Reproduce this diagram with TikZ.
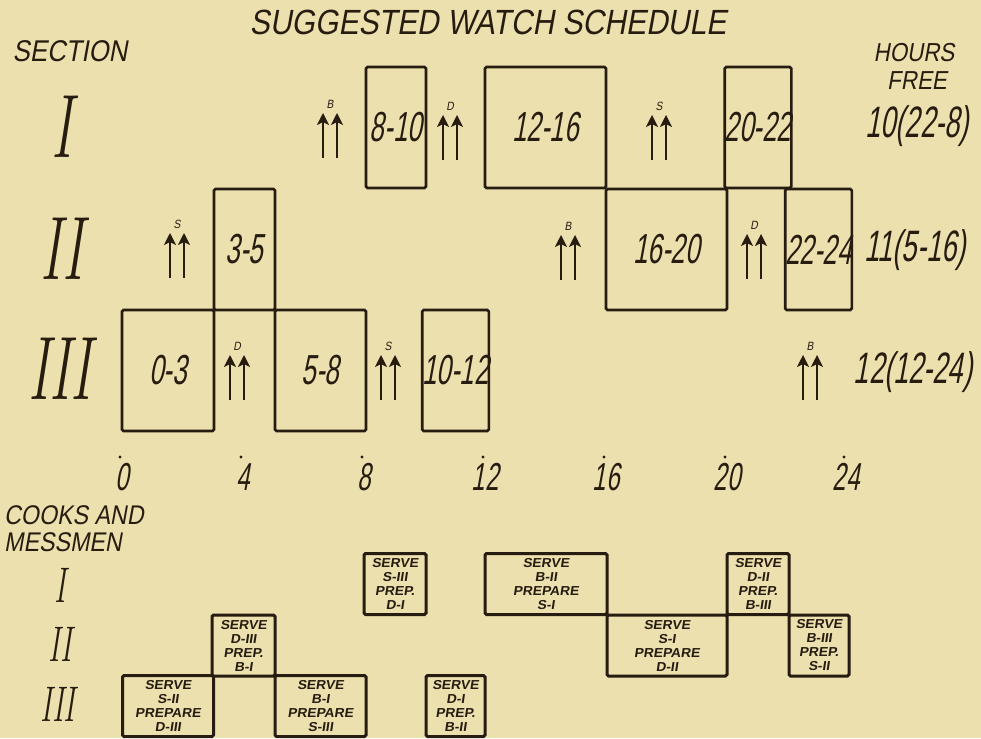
\documentclass[tikz,border=0pt]{standalone}
\usepackage{fontspec}
\usepackage{graphicx}
\usetikzlibrary{arrows.meta}
\newfontfamily\hand[FakeSlant=0.18,FakeStretch=0.62]{Liberation Sans}
\newfontfamily\handw[FakeSlant=0.18,FakeStretch=0.86]{Liberation Sans}
\newfontfamily\handb[FakeSlant=0.15,FakeStretch=1.06]{Liberation Sans}
\definecolor{paper}{RGB}{236,224,174}
\definecolor{ink}{RGB}{38,28,16}
\newcommand\RomX[1]{\scalebox{0.62}[1]{#1}}
\newcommand\dup[4]{%
  \draw[dblarr] ({#2-7},#3) -- ({#2-7},{#3-45});
  \draw[dblarr] ({#2+7},#3) -- ({#2+7},{#3-45});
  \node[alab] (#1) at (#2,{#3-54}) {#4};}
\begin{document}
\begin{tikzpicture}[x=1pt,y=-1pt,
  wbox/.style={draw=ink,line width=2.6pt,rounded corners=1.5pt,inner sep=0pt,text=ink,
    minimum height=121pt,font=\hand\fontsize{42}{42}\selectfont},
  cbox/.style={draw=ink,line width=3pt,rounded corners=1.5pt,inner sep=0pt,text=ink,
    minimum height=61pt,align=center,font=\handb\bfseries\fontsize{13}{14}\selectfont},
  rom/.style={text=ink,inner sep=0pt,font=\itshape\fontsize{90}{90}\selectfont},
  romsm/.style={text=ink,inner sep=0pt,font=\itshape\fontsize{50}{50}\selectfont},
  lab/.style={text=ink,inner sep=0pt,font=\handw\fontsize{30}{30}\selectfont},
  free/.style={text=ink,inner sep=0pt,font=\hand\fontsize{44}{44}\selectfont},
  axn/.style={text=ink,inner sep=0pt,font=\hand\fontsize{39}{39}\selectfont},
  alab/.style={text=ink,inner sep=0pt,font=\handw\fontsize{12}{12}\selectfont},
  dblarr/.style={draw=ink,line width=1.8pt,-{Stealth[length=12pt,width=12pt,inset=3pt]}},
  tick/.style={fill=ink,draw=none}]
\useasboundingbox (0,0) rectangle (981,738);
\fill[paper] (0,0) rectangle (981,738);

% headings
\node[text=ink,inner sep=0pt,font=\handw\fontsize{35}{35}\selectfont] (title) at (488,22) {SUGGESTED WATCH SCHEDULE};
\node[lab] (section) at (70,51) {SECTION};
\node[lab,font=\handw\fontsize{26}{26}\selectfont] (hours) at (914,53) {HOURS};
\node[lab,font=\handw\fontsize{26}{26}\selectfont] (freehd) at (917,81) {FREE};

% section numerals
\node[rom] (sI) at (62,127) {\RomX{I}};
\node[rom] (sII) at (62,249) {\RomX{II}};
\node[rom] (sIII) at (60,369) {\RomX{III}};

% watch boxes
\node[wbox,minimum width=60pt] (w810) at (396,127.5) {8-10};
\node[wbox,minimum width=121pt] (w1216) at (545.5,127.5) {12-16};
\node[wbox,minimum width=62pt] (w2022) at (758,127.5) {20-22};
\node[wbox,minimum width=61pt] (w35) at (244.5,249.5) {3-5};
\node[wbox,minimum width=121pt] (w1620) at (666.5,249.5) {16-20};
\node[wbox,minimum width=59pt] (w2224) at (818.5,249.5) {22-24};
\node[wbox,minimum width=92pt] (w03) at (168,370.5) {0-3};
\node[wbox,minimum width=91pt] (w58) at (320.5,370.5) {5-8};
\node[wbox,minimum width=59pt] (w1012) at (455.5,370.5) {10-12};

% meal arrows
\dup{aIB}{330}{158}{B}
\dup{aID}{450}{160}{D}
\dup{aIS}{659}{160}{S}
\dup{aIIS}{177}{278}{S}
\dup{aIIB}{568}{280}{B}
\dup{aIID}{754}{279}{D}
\dup{aIIID}{237}{400}{D}
\dup{aIIIS}{388}{400}{S}
\dup{aIIIB}{810}{400}{B}

% hours free
\node[free] (fI) at (917,126) {10(22-8)};
\node[free] (fII) at (915,250) {11(5-16)};
\node[free] (fIII) at (913,372) {12(12-24)};

% time axis
\foreach \h/\x in {0/122,4/243,8/364,12/485,16/606,20/727,24/846}{
  \fill[tick] ({\x-2},457) circle (1.7pt);
  \node[axn] (n\h) at (\x,477) {\h};
}

% cooks and messmen
\node[lab,font=\handw\fontsize{27}{27}\selectfont,anchor=west] (cooks) at (4,515) {COOKS AND};
\node[lab,font=\handw\fontsize{27}{27}\selectfont,anchor=west] (mess) at (4,542) {MESSMEN};
\node[romsm] (cI) at (60,585) {\RomX{I}};
\node[romsm] (cII) at (60,644) {\RomX{II}};
\node[romsm] (cIII) at (58,704) {\RomX{III}};

\node[cbox,minimum width=62pt] (c810) at (395,584) {SERVE\\S-III\\PREP.\\D-I};
\node[cbox,minimum width=122pt] (c1216) at (546,584) {SERVE\\B-II\\PREPARE\\S-I};
\node[cbox,minimum width=62pt] (c2022) at (758,584) {SERVE\\D-II\\PREP.\\B-III};
\node[cbox,minimum width=63pt] (c35) at (243.5,645.5) {SERVE\\D-III\\PREP.\\B-I};
\node[cbox,minimum width=120pt] (c1620) at (667,645.5) {SERVE\\S-I\\PREPARE\\D-II};
\node[cbox,minimum width=60pt] (c2224) at (819,645.5) {SERVE\\B-III\\PREP.\\S-II};
\node[cbox,minimum width=91pt] (c03) at (168,706) {SERVE\\S-II\\PREPARE\\D-III};
\node[cbox,minimum width=91pt] (c58) at (320.5,706) {SERVE\\B-I\\PREPARE\\S-III};
\node[cbox,minimum width=59pt] (c1012) at (455.5,706) {SERVE\\D-I\\PREP.\\B-II};
\end{tikzpicture}
\end{document}
